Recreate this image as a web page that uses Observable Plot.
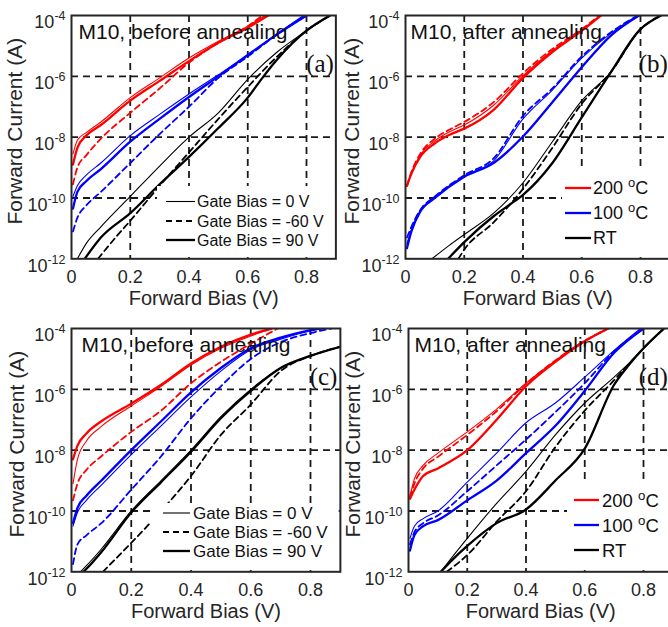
<!DOCTYPE html>
<html><head><meta charset="utf-8">
<script src="https://cdn.jsdelivr.net/npm/d3@7"></script>
<script src="https://cdn.jsdelivr.net/npm/@observablehq/plot@0.6"></script>
<style>
html,body{margin:0;padding:0;overflow:hidden;background:#fff;width:668px;height:627px;position:relative;}
.panel{position:absolute;}
</style></head><body>
<div id="pa" class="panel"></div>
<div id="pb" class="panel"></div>
<div id="pc" class="panel"></div>
<div id="pd" class="panel"></div>
<script>
// ---------- data: [forward bias (V), log10(forward current / A)] ----------
// panel (a) before annealing
const a_red_0   = [[0.005,-8.55],[0.02,-8.1],[0.05,-7.85],[0.1,-7.5],[0.2,-6.7],[0.3,-6.05],[0.4,-5.4],[0.5,-4.85],[0.6,-4.35],[0.66,-4.0]];
const a_red_60  = [[0.005,-9.55],[0.02,-9.0],[0.05,-8.6],[0.1,-8.05],[0.2,-7.2],[0.3,-6.4],[0.4,-5.55],[0.5,-4.9],[0.6,-4.35],[0.65,-4.0]];
const a_red_90  = [[0.005,-8.9],[0.02,-8.35],[0.05,-7.95],[0.1,-7.6],[0.2,-6.8],[0.3,-6.15],[0.4,-5.5],[0.5,-4.9],[0.6,-4.4],[0.67,-4.0]];
const a_blue_0  = [[0.005,-9.95],[0.02,-9.6],[0.05,-9.25],[0.1,-8.85],[0.2,-7.95],[0.3,-7.25],[0.4,-6.58],[0.5,-5.95],[0.6,-5.3],[0.7,-4.6],[0.79,-4.0]];
const a_blue_60 = [[0.005,-11.1],[0.02,-10.65],[0.05,-10.25],[0.1,-9.8],[0.2,-8.85],[0.3,-7.9],[0.4,-7.0],[0.5,-6.05],[0.6,-5.35],[0.7,-4.62],[0.8,-4.0]];
const a_blue_90 = [[0.005,-10.35],[0.02,-9.8],[0.05,-9.45],[0.1,-9.05],[0.2,-8.15],[0.3,-7.4],[0.4,-6.68],[0.5,-6.0],[0.6,-5.3],[0.7,-4.62],[0.8,-4.0]];
const a_black_0 = [[0.02,-12],[0.05,-11.5],[0.1,-10.95],[0.2,-9.95],[0.3,-8.95],[0.4,-8.0],[0.5,-7.2],[0.6,-6.1],[0.7,-5.2],[0.8,-4.5],[0.88,-4.0]];
const a_black_60= [[0.09,-12],[0.15,-11.3],[0.2,-10.75],[0.3,-9.6],[0.4,-8.5],[0.5,-7.4],[0.6,-6.35],[0.7,-5.35],[0.8,-4.5],[0.88,-4.0]];
const a_black_90= [[0.045,-12],[0.1,-11.3],[0.2,-10.5],[0.3,-9.55],[0.4,-8.65],[0.5,-7.7],[0.6,-6.7],[0.65,-6.05],[0.7,-5.45],[0.8,-4.5],[0.88,-4.0]];
// panel (b) after annealing
const b_red_0   = [[0.005,-9.6],[0.02,-9.2],[0.05,-8.6],[0.1,-8.12],[0.15,-7.82],[0.2,-7.6],[0.3,-6.95],[0.4,-5.98],[0.5,-5.15],[0.6,-4.48],[0.665,-4.0]];
const b_red_60  = [[0.005,-9.6],[0.02,-9.15],[0.05,-8.55],[0.1,-8.05],[0.15,-7.75],[0.2,-7.5],[0.3,-6.85],[0.4,-5.9],[0.5,-5.1],[0.6,-4.45],[0.66,-4.0]];
const b_red_90  = [[0.005,-9.6],[0.02,-9.2],[0.05,-8.65],[0.1,-8.2],[0.15,-7.92],[0.2,-7.72],[0.3,-7.1],[0.4,-6.05],[0.5,-5.2],[0.6,-4.5],[0.665,-4.0]];
const b_blue_0  = [[0.005,-11.5],[0.02,-11.05],[0.05,-10.45],[0.1,-9.98],[0.2,-9.28],[0.3,-8.78],[0.4,-7.4],[0.5,-6.45],[0.6,-5.4],[0.7,-4.58],[0.79,-4.0]];
const b_blue_60 = [[0.005,-11.3],[0.02,-10.95],[0.05,-10.4],[0.1,-9.95],[0.2,-9.25],[0.3,-8.7],[0.4,-7.3],[0.5,-6.4],[0.6,-5.35],[0.7,-4.55],[0.79,-4.0]];
const b_blue_90 = [[0.005,-11.65],[0.02,-11.1],[0.05,-10.45],[0.1,-10.0],[0.2,-9.3],[0.3,-8.85],[0.4,-7.98],[0.5,-6.85],[0.6,-5.7],[0.7,-4.65],[0.795,-4.0]];
const b_black_0 = [[0.09,-12],[0.15,-11.55],[0.2,-11.2],[0.3,-10.5],[0.4,-9.5],[0.5,-8.15],[0.6,-6.8],[0.7,-5.85],[0.8,-4.45],[0.87,-4.0]];
const b_black_60= [[0.18,-12],[0.2,-11.7],[0.3,-10.8],[0.4,-9.7],[0.5,-8.35],[0.6,-6.9],[0.7,-5.85],[0.8,-4.45],[0.87,-4.0]];
const b_black_90= [[0.145,-12],[0.2,-11.45],[0.3,-10.6],[0.35,-10.25],[0.4,-9.9],[0.5,-8.85],[0.6,-7.35],[0.7,-5.85],[0.8,-4.45],[0.87,-4.0]];
// panel (c) before annealing
const c_red_0   = [[0.005,-9.1],[0.02,-8.3],[0.05,-7.7],[0.1,-7.22],[0.2,-6.55],[0.3,-5.9],[0.4,-5.2],[0.5,-4.65],[0.6,-4.25],[0.67,-4.0]];
const c_red_60  = [[0.005,-9.65],[0.02,-9.1],[0.05,-8.65],[0.1,-8.2],[0.2,-7.4],[0.3,-6.7],[0.4,-5.8],[0.5,-5.1],[0.6,-4.5],[0.69,-4.0]];
const c_red_90  = [[0.005,-8.3],[0.02,-7.85],[0.05,-7.45],[0.1,-7.05],[0.2,-6.47],[0.3,-5.85],[0.4,-5.15],[0.5,-4.6],[0.6,-4.2],[0.67,-4.0]];
const c_blue_0  = [[0.005,-10.5],[0.02,-10.05],[0.05,-9.65],[0.1,-9.15],[0.2,-8.15],[0.3,-7.2],[0.4,-6.25],[0.5,-5.4],[0.6,-4.7],[0.7,-4.35],[0.8,-4.08],[0.85,-4.0]];
const c_blue_60 = [[0.005,-11.75],[0.02,-11.1],[0.05,-10.8],[0.1,-10.4],[0.2,-9.3],[0.3,-8.2],[0.4,-6.95],[0.5,-5.9],[0.6,-5.0],[0.7,-4.45],[0.8,-4.15],[0.87,-4.0]];
const c_blue_90 = [[0.005,-10.4],[0.02,-9.9],[0.05,-9.5],[0.1,-9.0],[0.2,-8.0],[0.3,-7.05],[0.4,-6.1],[0.5,-5.3],[0.6,-4.65],[0.7,-4.3],[0.8,-4.05],[0.83,-4.0]];
const c_black_0 = [[0.03,-12],[0.05,-11.8],[0.1,-11.25],[0.2,-10.0],[0.3,-9.0],[0.4,-8.0],[0.5,-6.9],[0.6,-6.0],[0.7,-5.3],[0.8,-4.9],[0.9,-4.6]];
const c_black_60= [[0.105,-12],[0.15,-11.55],[0.2,-11.05],[0.3,-10.0],[0.4,-8.85],[0.5,-7.5],[0.6,-6.5],[0.7,-5.4],[0.8,-4.9],[0.9,-4.6]];
const c_black_90= [[0.04,-12],[0.06,-11.8],[0.1,-11.35],[0.2,-10.05],[0.3,-9.05],[0.4,-8.05],[0.5,-6.95],[0.6,-6.05],[0.7,-5.3],[0.8,-4.9],[0.9,-4.6]];
// panel (d) after annealing
const d_red_0   = [[0.005,-9.5],[0.02,-8.95],[0.05,-8.5],[0.1,-8.1],[0.2,-7.4],[0.3,-6.65],[0.4,-5.8],[0.5,-5.05],[0.6,-4.4],[0.68,-4.0]];
const d_red_60  = [[0.005,-9.55],[0.02,-9.1],[0.05,-8.6],[0.1,-8.22],[0.2,-7.5],[0.3,-6.72],[0.4,-5.82],[0.5,-5.05],[0.6,-4.4],[0.68,-4.0]];
const d_red_90  = [[0.005,-9.6],[0.02,-9.3],[0.05,-8.85],[0.1,-8.6],[0.2,-8.0],[0.3,-7.0],[0.4,-5.9],[0.5,-5.1],[0.6,-4.42],[0.68,-4.0]];
const d_blue_0  = [[0.005,-10.9],[0.02,-10.5],[0.05,-10.25],[0.1,-10.0],[0.2,-9.05],[0.3,-8.1],[0.4,-7.1],[0.5,-6.45],[0.6,-5.6],[0.7,-4.72],[0.79,-4.0]];
const d_blue_60 = [[0.005,-11.1],[0.02,-10.7],[0.05,-10.4],[0.1,-10.15],[0.2,-9.35],[0.3,-8.5],[0.4,-7.65],[0.5,-6.75],[0.6,-5.8],[0.7,-4.75],[0.8,-4.0]];
const d_blue_90 = [[0.005,-11.3],[0.02,-10.8],[0.05,-10.5],[0.1,-10.3],[0.2,-9.65],[0.3,-9.0],[0.4,-8.1],[0.5,-7.2],[0.6,-6.05],[0.7,-4.8],[0.8,-4.0]];
const d_black_0 = [[0.11,-12],[0.15,-11.5],[0.2,-10.9],[0.3,-9.75],[0.4,-8.7],[0.5,-7.5],[0.6,-6.45],[0.7,-5.6],[0.75,-5.15],[0.8,-4.65],[0.87,-4.0]];
const d_black_60= [[0.13,-12],[0.2,-11.45],[0.3,-10.35],[0.4,-9.35],[0.5,-7.9],[0.6,-6.7],[0.7,-5.7],[0.75,-5.17],[0.8,-4.65],[0.87,-4.0]];
const d_black_90= [[0.11,-12],[0.15,-11.6],[0.2,-11.15],[0.3,-10.4],[0.4,-9.95],[0.5,-9.0],[0.6,-7.95],[0.7,-5.85],[0.75,-5.2],[0.8,-4.65],[0.87,-4.0]];

// axes / labels
const X_TICKS = [0, 0.2, 0.4, 0.6, 0.8];
const X_GRID  = [0.2, 0.4, 0.6, 0.8];
const Y_TICKS = [1e-12, 1e-10, 1e-8, 1e-6, 1e-4];
const Y_GRID  = [1e-10, 1e-8, 1e-6];
const GATE_LABELS = ["Gate Bias = 0 V", "Gate Bias = -60 V", "Gate Bias = 90 V"];
const TEMP_LABELS = ["200", "100", "RT"];
const TITLES = ["M10, before annealing", "M10, after annealing"];
const LETTERS = ["(a)", "(b)", "(c)", "(d)"];
const X_LABEL = "Forward Bias (V)";
const Y_LABEL = "Forward Current (A)";

// ---------- styling ----------
const RED = "#ff0000", BLUE = "#0000ff", BLACK = "#000000";
const SANS = "'Liberation Sans', Arial, Helvetica, sans-serif";
const SERIF = "'Liberation Serif', 'Times New Roman', serif";
const STY = {
  g0:  {w: 1.1, dash: null},
  g60: {w: 1.8, dash: "6,4"},
  g90: {w: 2.3, dash: null}
};
function curves(r0, r60, r90, u0, u60, u90, k0, k60, k90) {
  return [
    {c: BLACK, s: "g0", p: k0}, {c: BLACK, s: "g60", p: k60}, {c: BLACK, s: "g90", p: k90},
    {c: BLUE, s: "g0", p: u0}, {c: BLUE, s: "g60", p: u60}, {c: BLUE, s: "g90", p: u90},
    {c: RED, s: "g0", p: r0}, {c: RED, s: "g60", p: r60}, {c: RED, s: "g90", p: r90}
  ];
}

const panels = [
  {el: "pa", left: 0, top: 0, width: 340, mL: 71, pxPerV: 293.75, title: TITLES[0], tdx: 7, letter: LETTERS[0], ldx: -2, ylx: -56,
   data: curves(a_red_0, a_red_60, a_red_90, a_blue_0, a_blue_60, a_blue_90, a_black_0, a_black_60, a_black_90),
   legend: {kind: "gate", x: 157, y: 186, rows: [201.5, 221, 240], lx0: 166, lx1: 195, tx: 197, fs: 16}},
  {el: "pb", left: 334, top: 0, width: 340, mL: 71, pxPerV: 293.75, title: TITLES[1], tdx: 5, letter: LETTERS[1], ldx: -2, ylx: -53,
   data: curves(b_red_0, b_red_60, b_red_90, b_blue_0, b_blue_60, b_blue_90, b_black_0, b_black_60, b_black_90),
   legend: {kind: "temp", x: 228, y: 170, rows: [188, 213, 238], lx0: 231, lx1: 257, tx: 259, fs: 18}},
  {el: "pc", left: 0, top: 313, width: 345, mL: 71, pxPerV: 298.75, title: TITLES[0], tdx: 10, letter: LETTERS[2], ldx: -3, ylx: -54,
   data: curves(c_red_0, c_red_60, c_red_90, c_blue_0, c_blue_60, c_blue_90, c_black_0, c_black_60, c_black_90),
   legend: {kind: "gate", x: 150, y: 190, rows: [200, 219, 238], lx0: 163, lx1: 190, tx: 193, fs: 17}},
  {el: "pd", left: 334, top: 313, width: 345, mL: 74, pxPerV: 293.75, title: TITLES[1], tdx: 6, letter: LETTERS[3], ldx: -5, ylx: -55.5,
   data: curves(d_red_0, d_red_60, d_red_90, d_blue_0, d_blue_60, d_blue_90, d_black_0, d_black_60, d_black_90),
   legend: {kind: "temp", x: 233, y: 168, rows: [187, 212, 237], lx0: 240, lx1: 265, tx: 268, fs: 18.5}}
];

const H = 313, MT = 15, MB = 54.7;
const NS = "http://www.w3.org/2000/svg";
function el(parent, tag, attrs) {
  const e = document.createElementNS(NS, tag);
  for (const k in attrs) if (attrs[k] != null) e.setAttribute(k, attrs[k]);
  parent.appendChild(e);
  return e;
}

function build(p) {
  const frameW = 0.9 * p.pxPerV;
  const mR = p.width - p.mL - frameW;
  const marks = [
    Plot.ruleX(X_GRID, {stroke: "#1a1a1a", strokeWidth: 1.8, strokeDasharray: "7,5"}),
    Plot.ruleY(Y_GRID, {stroke: "#1a1a1a", strokeWidth: 1.8, strokeDasharray: "7,5"})
  ];
  for (const c of p.data) {
    marks.push(Plot.line(c.p, {
      x: d => d[0], y: d => Math.pow(10, d[1]),
      stroke: c.c, strokeWidth: STY[c.s].w, strokeDasharray: STY[c.s].dash,
      curve: "monotone-x", clip: true
    }));
  }
  marks.push(
    Plot.frame({stroke: "#262626", strokeWidth: 2}),
    Plot.text([p.title], {text: d => d, frameAnchor: "top-left", textAnchor: "start", lineAnchor: "middle",
      dx: p.tdx, dy: 17, fontSize: 21, fill: "#111"}),
    Plot.text([p.letter], {text: d => d, frameAnchor: "top-right", textAnchor: "end", lineAnchor: "middle",
      dx: p.ldx, dy: 48, fontSize: 25, fontFamily: SERIF, fill: "#111"}),
    Plot.text([X_LABEL], {text: d => d, frameAnchor: "bottom", textAnchor: "middle", lineAnchor: "middle",
      dy: 40, fontSize: 20, fill: "#262626"}),
    Plot.text([Y_LABEL], {text: d => d, frameAnchor: "left", textAnchor: "middle", lineAnchor: "middle",
      dx: p.ylx, dy: -6, rotate: -90, fontSize: 21, fill: "#262626"})
  );
  const svg = Plot.plot({
    width: p.width, height: H,
    marginLeft: p.mL, marginRight: mR, marginTop: MT, marginBottom: MB,
    style: `background:transparent;overflow:visible;max-width:none;font-family:${SANS};font-size:18px;color:#262626;`,
    x: {domain: [0, 0.9], ticks: X_TICKS, tickFormat: d => d === 0 ? "0" : String(d), tickSize: 0, tickPadding: 11, label: null},
    y: {type: "log", domain: [1e-12, 1e-4], ticks: Y_TICKS, tickFormat: d => "10^" + Math.round(Math.log10(d)),
        tickSize: 0, tickPadding: 6, label: null},
    marks
  });
  const host = document.getElementById(p.el);
  host.style.left = p.left + "px";
  host.style.top = p.top + "px";
  host.style.width = p.width + "px";
  host.appendChild(svg);

  // superscript exponents on y tick labels
  d3.select(svg).selectAll("text").each(function () {
    const m = /^10\^(-?\d+)$/.exec(this.textContent);
    if (!m) return;
    const t = d3.select(this);
    t.text(null);
    t.append("tspan").text("10");
    t.append("tspan").attr("dy", "-8").attr("font-size", "12.5px").text(m[1]);
    t.attr("transform", (t.attr("transform") || "") + " translate(0,7)");
  });

  // legend (white box on top of the plot, as in the reference)
  const L = p.legend;
  const fx2 = p.mL + frameW - 1.2, fy2 = H - MB - 1.2;
  const g = el(svg, "g", {"font-family": SANS, "font-size": L.fs + "px", "text-anchor": "start", fill: "#111"});
  const box = el(g, "rect", {x: L.x, y: L.y, width: fx2 - L.x, height: fy2 - L.y, fill: "#ffffff", stroke: "none"});
  box.style.fill = "#ffffff";
  const entries = L.kind === "gate"
    ? [{c: BLACK, st: STY.g0, label: GATE_LABELS[0]}, {c: BLACK, st: STY.g60, label: GATE_LABELS[1]}, {c: BLACK, st: STY.g90, label: GATE_LABELS[2]}]
    : [{c: RED, st: STY.g90, label: TEMP_LABELS[0], deg: true}, {c: BLUE, st: STY.g90, label: TEMP_LABELS[1], deg: true}, {c: BLACK, st: STY.g90, label: TEMP_LABELS[2]}];
  entries.forEach((e, i) => {
    const y = L.rows[i];
    el(g, "line", {x1: L.lx0, x2: L.lx1, y1: y, y2: y, stroke: e.c, "stroke-width": e.st.w, "stroke-dasharray": e.st.dash});
    const t = el(g, "text", {x: L.tx, y: y, dy: "0.36em", "text-anchor": "start"});
    if (e.deg) {
      el(t, "tspan", {}).textContent = e.label + " ";
      el(t, "tspan", {dy: "-7", "font-size": (L.fs * 0.72) + "px"}).textContent = "o";
      el(t, "tspan", {dy: "7"}).textContent = "C";
    } else {
      t.textContent = e.label;
    }
  });
}

panels.forEach(build);
</script>
</body></html>
